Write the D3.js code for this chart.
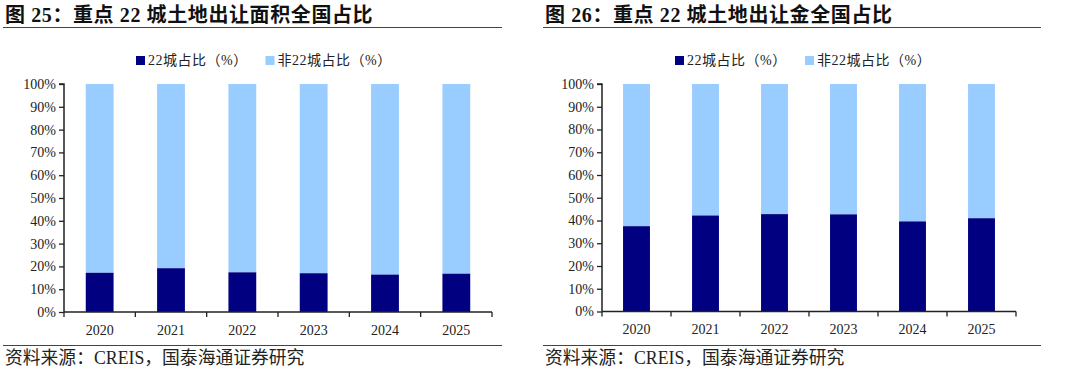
<!DOCTYPE html>
<html><head><meta charset="utf-8">
<script src="https://cdn.jsdelivr.net/npm/d3@7/dist/d3.min.js"></script>
<style>
html,body{margin:0;padding:0;background:#fff;}
svg{display:block;}
</style></head>
<body>
<svg id="chart" width="1080" height="381"></svg>
<script>
const years = ["2020","2021","2022","2023","2024","2025"];
const yTicks = [0,10,20,30,40,50,60,70,80,90,100];
const seriesNames = ["22城占比（%）","非22城占比（%）"];
const areaShare22 = [17.2,19.2,17.4,17.0,16.4,16.8];
const areaShareOther = [82.8,80.8,82.6,83.0,83.6,83.2];
const feeShare22 = [37.5,42.2,42.8,42.7,39.6,41.0];
const feeShareOther = [62.5,57.8,57.2,57.3,60.4,59.0];
const titles = ["图 25：重点 22 城土地出让面积全国占比","图 26：重点 22 城土地出让金全国占比"];
const sourceText = "资料来源：CREIS，国泰海通证券研究";
const colors = ["#000080","#99CCFF"];

const svg = d3.select("#chart");
const FONT = "'Liberation Serif','Times New Roman','Noto Sans CJK SC',serif";

function panel(cfg){
  const g = svg.append("g");
  // title
  g.append("text").attr("x", cfg.left+2).attr("y", 22)
    .attr("font-family", FONT).attr("font-weight","bold")
    .attr("font-size", 20).attr("letter-spacing", 0.6).attr("fill","#111").text(cfg.title);
  g.append("line").attr("x1", cfg.left).attr("x2", cfg.right)
    .attr("y1", 27.5).attr("y2", 27.5).attr("stroke","#444").attr("stroke-width",1.2);
  // legend
  seriesNames.forEach((n,i)=>{
    g.append("rect").attr("x", cfg.legX[i]).attr("y",56).attr("width",9).attr("height",9).attr("fill",colors[i]);
    g.append("text").attr("x", cfg.legX[i]+12).attr("y",65)
      .attr("font-family",FONT).attr("font-size",14).attr("letter-spacing",0.5).attr("fill","#222").text(n);
  });
  const x = d3.scaleBand().domain(years).range([cfg.x0, cfg.x1]).paddingInner(0.61).paddingOuter(0.305);
  const y = d3.scaleLinear().domain([0,100]).range([cfg.y0, cfg.y1]);
  const stack = years.map((yr,i)=>({yr, a:cfg.a[i], b:cfg.b[i]}));
  g.selectAll(".b2").data(stack).join("rect")
    .attr("x", d=>x(d.yr)).attr("width", x.bandwidth())
    .attr("y", d=>y(d.a+d.b)).attr("height", d=>y(d.a)-y(d.a+d.b)).attr("fill",colors[1]);
  g.selectAll(".b1").data(stack).join("rect")
    .attr("x", d=>x(d.yr)).attr("width", x.bandwidth())
    .attr("y", d=>y(d.a)).attr("height", d=>y(0)-y(d.a)).attr("fill",colors[0]);
  // y axis
  const ya = g.append("g").attr("transform",`translate(${cfg.x0},0)`)
    .call(d3.axisLeft(y).tickValues(yTicks).tickFormat(d=>d+"%").tickSize(5).tickPadding(3));
  ya.select(".domain").attr("stroke","#222").attr("stroke-width",1.5).attr("d",`M-5,${cfg.y1}H0V${cfg.y0}`);
  ya.selectAll(".tick line").attr("stroke","#222").attr("stroke-width",1.3);
  ya.selectAll("text").attr("font-family",FONT).attr("font-size",14).attr("fill","#222");
  // x axis
  const xa = g.append("g").attr("transform",`translate(0,${cfg.y0})`)
    .call(d3.axisBottom(x).tickSize(0).tickPadding(13));
  xa.select(".domain").attr("stroke","#222").attr("stroke-width",1.5).attr("d",`M${cfg.x0},0H${cfg.x1}`);
  xa.selectAll("text").attr("font-family",FONT).attr("font-size",14).attr("fill","#222");
  const step = x.step();
  const bounds = years.map((yr,i)=>cfg.x0 + i*step).concat([cfg.x1]);
  xa.selectAll(".bt").data(bounds).join("line")
    .attr("x1",d=>d).attr("x2",d=>d).attr("y1",0).attr("y2",5)
    .attr("stroke","#222").attr("stroke-width",1.3);
  // source
  g.append("line").attr("x1", cfg.left).attr("x2", cfg.right)
    .attr("y1", 345.5).attr("y2", 345.5).attr("stroke","#444").attr("stroke-width",1.2);
  g.append("text").attr("x", cfg.left+2).attr("y", 364)
    .attr("font-family",FONT).attr("font-size",17.8).attr("fill","#222").text(sourceText);
}

panel({left:3, right:502, title:titles[0], legX:[136,265.5], x0:64, x1:492, y0:312, y1:84, a:areaShare22, b:areaShareOther});
panel({left:543, right:1041, title:titles[1], legX:[675,805], x0:602, x1:1016, y0:311.5, y1:84, a:feeShare22, b:feeShareOther});
</script>
</body></html>
